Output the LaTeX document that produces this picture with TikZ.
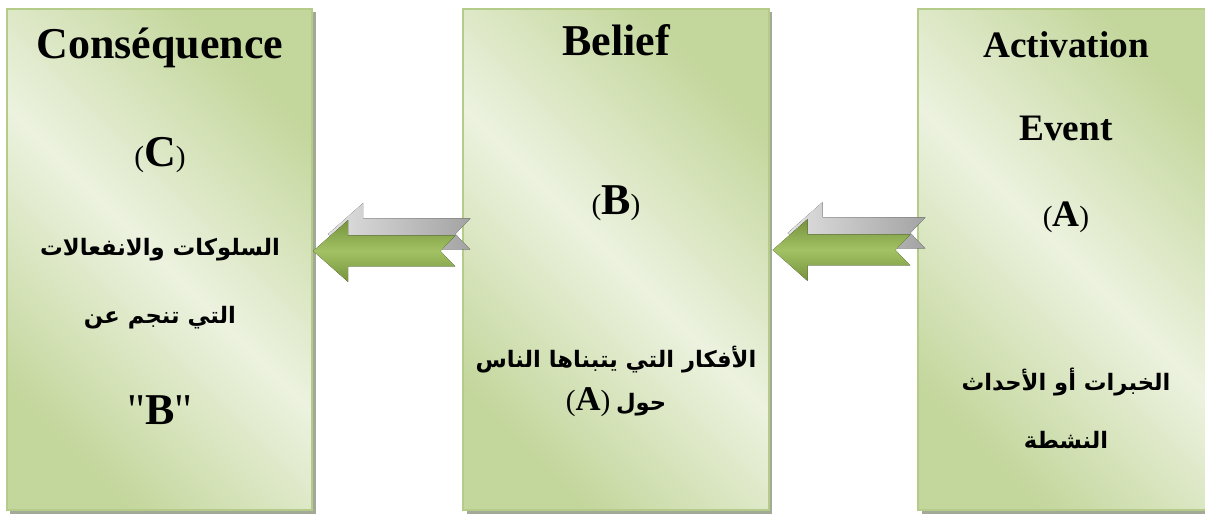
\documentclass[tikz,border=0pt]{standalone}
\usepackage{fontspec}
\setmainfont{Liberation Serif}
\newfontfamily\quotefont{Liberation Serif}[Ligatures=TeXOff]
\newfontfamily\arabicfont[Script=Arabic]{DejaVu Sans}
\TeXXeTstate=1
\usetikzlibrary{calc, shadows}

\definecolor{boxdark}{HTML}{C3D69B}
\definecolor{boxlight}{HTML}{ECF2DF}
\definecolor{boxline}{HTML}{B4CB8A}
\definecolor{boxshadow}{HTML}{A2A996}
\definecolor{arrowdark}{HTML}{76923C}
\definecolor{arrowlight}{HTML}{A2C264}

\newcommand{\artext}[1]{{\arabicfont\bfseries\beginR #1\endR}}
\newcommand{\lpar}{{\mdseries\fontsize{22}{24}\selectfont(}}
\newcommand{\rpar}{{\mdseries\fontsize{22}{24}\selectfont)}}
\newcommand{\qmark}{{\quotefont\mdseries"}}
% fat arrow: #1 tail, #2 tip (same height)
\newcommand{\arrowpath}[2]{(#2) -- ($(#2)+(35,-31)$) -- ($(#2)+(35,-15.5)$)
  -- ($(#1)+(0,-15.5)$) -- ($(#1)+(-15,0)$) -- ($(#1)+(0,15.5)$)
  -- ($(#2)+(35,15.5)$) -- ($(#2)+(35,31)$) -- cycle}
\newcommand{\blockarrow}[2]{%
  \begin{scope}[transform canvas={xshift=11.25pt, yshift=12.75pt}]
    \fill[arrowshade] \arrowpath{#1}{#2};
  \end{scope}
  \fill[arrowbody] \arrowpath{#1}{#2};
}

\begin{document}
\begin{tikzpicture}[
    x=0.75pt, y=-0.75pt,
    column/.style={
        draw=boxline,
        line width=1.5pt,
        left color=boxdark, right color=boxdark, middle color=boxlight,
        shading angle=-45,
        minimum width=229pt,
        minimum height=376pt,
        inner sep=0pt,
        drop shadow={shadow xshift=2.5pt, shadow yshift=-2.5pt,
                     fill=boxshadow, opacity=1}
    },
    title/.style={font=\fontsize{33}{36}\selectfont\bfseries},
    smalltitle/.style={font=\fontsize{28}{32}\selectfont\bfseries},
    artxt/.style={font=\fontsize{17}{20}\selectfont},
    arrowbody/.style={top color=arrowdark, bottom color=arrowdark,
        middle color=arrowlight},
    arrowshade/.style={left color=black!12, right color=black!36}
]
\useasboundingbox (0,0) rectangle (1205,516);

% Columns
\node[column] (csq) at (159.5,259.5) {};
\node[column] (blf) at (616,259.5) {};
\node[column] (act) at (1071,259.5) {};

% Consequence
\node[title] (csqname) at (160,48) {Conséquence};
\node[title] (csqletter) at (160,155) {\lpar C\rpar};
\node[artxt] (csqline1) at (160,250) {\artext{السلوكات والانفعالات}};
\node[artxt] (csqline2) at (160,318) {\artext{التي تنجم عن}};
\node[title] (csqref) at (160,410) {\qmark B\qmark};

% Belief
\node[title] (blfname) at (616,40) {Belief};
\node[title] (blfletter) at (616,203) {\lpar B\rpar};
\node[artxt] (blfline1) at (616,360) {\artext{الأفكار التي يتبناها الناس}};
\node[artxt] (blfline2) at (616,402) {\lpar{\bfseries\fontsize{26}{28}\selectfont A}\rpar\ \artext{حول}};

% Activation event
\node[smalltitle] (actname) at (1066,45) {Activation};
\node[smalltitle] (actname2) at (1066,128) {Event};
\node[smalltitle] (actletter) at (1066,217) {\lpar A\rpar};
\node[artxt] (actline1) at (1066,382) {\artext{الخبرات أو الأحداث}};
\node[artxt] (actline2) at (1066,440) {\artext{النشطة}};

% Arrows
\coordinate (tipcb) at ($(csq.east)+(0,-8.5)$);
\coordinate (tailcb) at ($(blf.west)+(-7,-8.5)$);
\coordinate (tipba) at ($(blf.east)+(3,-9.5)$);
\coordinate (tailba) at ($(act.west)+(-7,-9.5)$);
\blockarrow{tailcb}{tipcb}
\blockarrow{tailba}{tipba}

\end{tikzpicture}
\end{document}
